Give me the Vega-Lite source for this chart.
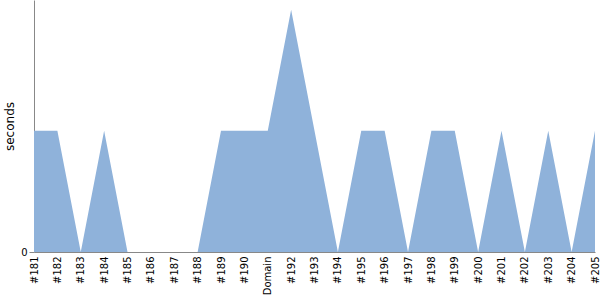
{
  "$schema": "https://vega.github.io/schema/vega-lite/v6.json",
  "width": 600,
  "height": 300,
  "autosize": {"type": "fit", "contains": "padding"},
  "padding": {"left": 3, "right": 0, "top": 0, "bottom": 5},
  "config": {
    "view": {"stroke": null},
    "font": "DejaVu Sans",
    "axis": {"domainColor": "#888888", "tickColor": "#888888", "grid": false, "labelColor": "#000000", "titleColor": "#000000", "titleFontWeight": "normal", "labelFont": "DejaVu Sans", "titleFont": "DejaVu Sans"}
  },
  "data": {
    "values": [
      {"build": "#181", "seconds": 1},
      {"build": "#182", "seconds": 1},
      {"build": "#183", "seconds": 0},
      {"build": "#184", "seconds": 1},
      {"build": "#185", "seconds": 0},
      {"build": "#186", "seconds": 0},
      {"build": "#187", "seconds": 0},
      {"build": "#188", "seconds": 0},
      {"build": "#189", "seconds": 1},
      {"build": "#190", "seconds": 1},
      {"build": "Domain", "seconds": 1},
      {"build": "#192", "seconds": 2},
      {"build": "#193", "seconds": 1},
      {"build": "#194", "seconds": 0},
      {"build": "#195", "seconds": 1},
      {"build": "#196", "seconds": 1},
      {"build": "#197", "seconds": 0},
      {"build": "#198", "seconds": 1},
      {"build": "#199", "seconds": 1},
      {"build": "#200", "seconds": 0},
      {"build": "#201", "seconds": 1},
      {"build": "#202", "seconds": 0},
      {"build": "#203", "seconds": 1},
      {"build": "#204", "seconds": 0},
      {"build": "#205", "seconds": 1}
    ]
  },
  "mark": {"type": "area", "color": "#8fb2da", "opacity": 1},
  "encoding": {
    "x": {
      "field": "build", "type": "ordinal", "sort": null,
      "scale": {"type": "point", "padding": 0},
      "axis": {"title": null, "labelAngle": -90, "ticks": false, "labelFontSize": 10, "labelPadding": 4, "labelBaseline": "middle"}
    },
    "y": {
      "field": "seconds", "type": "quantitative",
      "scale": {"domain": [0, 2.08], "nice": false},
      "axis": {"values": [0], "title": "seconds", "titleFontSize": 12, "labelFontSize": 10, "tickSize": 5, "labelPadding": 2, "titlePadding": 4}
    }
  }
}
